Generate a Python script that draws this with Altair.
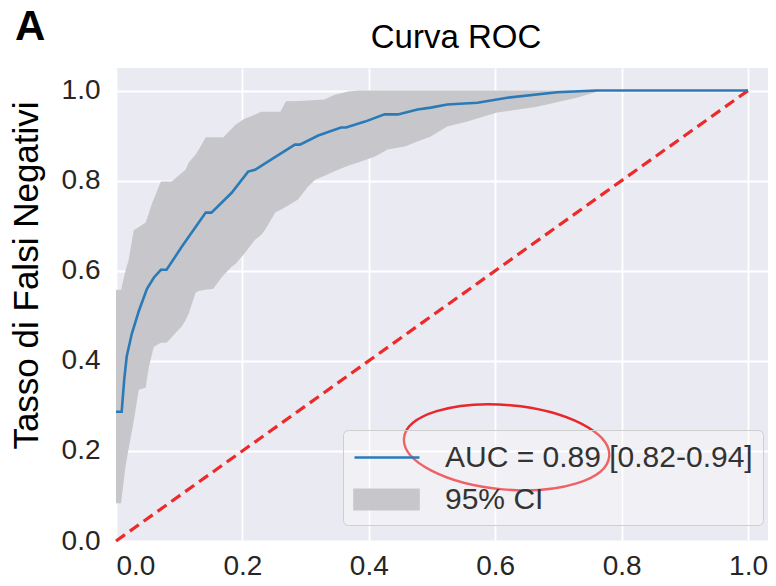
import altair as alt
import pandas as pd

# ROC curve (false positive rate vs rate)
roc_x = [0.0, 0.009, 0.013, 0.017, 0.025, 0.036, 0.049, 0.060, 0.071, 0.080, 0.104, 0.142, 0.151,
         0.183, 0.209, 0.220, 0.246, 0.283, 0.291, 0.320, 0.356, 0.364, 0.394, 0.425, 0.446, 0.477,
         0.498, 0.524, 0.572, 0.619, 0.698, 0.760, 1.0]
roc_y = [0.287, 0.287, 0.358, 0.410, 0.460, 0.510, 0.560, 0.585, 0.602, 0.602, 0.653, 0.729, 0.729,
         0.773, 0.820, 0.824, 0.847, 0.880, 0.880, 0.900, 0.918, 0.918, 0.931, 0.947, 0.947, 0.958,
         0.962, 0.969, 0.973, 0.984, 0.996, 1.0, 1.0]

# 95% confidence band
ci_x = [0.0, 0.008, 0.015, 0.020, 0.028, 0.036, 0.047, 0.052, 0.057, 0.060, 0.071, 0.080, 0.088,
        0.094, 0.104, 0.110, 0.115, 0.126, 0.131, 0.142, 0.154, 0.167, 0.170, 0.183, 0.189, 0.202,
        0.220, 0.230, 0.236, 0.252, 0.260, 0.269, 0.288, 0.304, 0.315, 0.330, 0.345, 0.367, 0.383,
        0.409, 0.430, 0.457, 0.477, 0.498, 0.524, 0.556, 0.603, 0.666, 0.729, 0.768, 1.0]
ci_lower = [0.084, 0.084, 0.165, 0.205, 0.265, 0.336, 0.340, 0.387, 0.415, 0.431, 0.440, 0.440, 0.452,
            0.462, 0.476, 0.490, 0.505, 0.551, 0.555, 0.558, 0.560, 0.585, 0.590, 0.609, 0.615, 0.636,
            0.669, 0.680, 0.691, 0.729, 0.735, 0.742, 0.758, 0.787, 0.802, 0.811, 0.820, 0.833, 0.840,
            0.853, 0.869, 0.876, 0.887, 0.898, 0.920, 0.931, 0.951, 0.964, 0.984, 1.0, 1.0]
ci_upper = [0.558, 0.558, 0.600, 0.624, 0.690, 0.697, 0.707, 0.728, 0.750, 0.760, 0.798, 0.798, 0.798,
            0.805, 0.817, 0.824, 0.840, 0.858, 0.869, 0.896, 0.896, 0.896, 0.896, 0.915, 0.924, 0.936,
            0.947, 0.953, 0.953, 0.953, 0.953, 0.976, 0.977, 0.978, 0.979, 0.980, 0.990, 0.998, 1.0,
            1.0, 1.0, 1.0, 1.0, 1.0, 1.0, 1.0, 1.0, 1.0, 1.0, 1.0, 1.0]

# chance diagonal
diag_x = [0.0, 1.0]
diag_y = [0.0, 1.0]

legend_labels = ["AUC = 0.89 [0.82-0.94]", "95% CI"]
ticks = [0.0, 0.2, 0.4, 0.6, 0.8, 1.0]

# annotation ellipse around the AUC value (data coordinates)
ellipse_x = [0.618]
ellipse_y = [0.208]

title_text = ["Curva ROC"]
panel_text = ["A"]

BLUE = "#2a7ab8"
BAND = "#c7c7cb"
RED = "#ec2a2a"
FONT = "Liberation Sans"

roc_df = pd.DataFrame({"x": roc_x, "y": roc_y})
ci_df = pd.DataFrame({"x": ci_x, "lo": ci_lower, "hi": ci_upper})
diag_df = pd.DataFrame({"x": diag_x, "y": diag_y})
leg_df = pd.DataFrame({"x": [0.5, 0.5], "y": [0.5, 0.5], "serie": legend_labels})
ell_df = pd.DataFrame({"x": ellipse_x, "y": ellipse_y})
panel_df = pd.DataFrame({"label": panel_text})
title_df = pd.DataFrame({"label": title_text})

xscale = alt.Scale(domain=[0, 1.0316], nice=False, zero=False)
yscale = alt.Scale(domain=[0, 1.05], nice=False, zero=False)

xaxis = alt.Axis(values=ticks, format=".1f", title=None, labelPadding=11)
yaxis = alt.Axis(values=ticks, format=".1f", title="Tasso di Falsi Negativi", labelPadding=16,
                 titleX=-79, titleY=207, titleAngle=270, titleBaseline="alphabetic",
                 titleAlign="center", titleFontSize=35, titleFont=FONT,
                 titleFontWeight="normal", titleColor="black")

X = alt.X("x:Q", scale=xscale, axis=xaxis)
Y = alt.Y("y:Q", scale=yscale, axis=yaxis)

band = alt.Chart(ci_df).mark_area(color=BAND, opacity=1).encode(
    x=X, y=alt.Y("lo:Q", scale=yscale, axis=yaxis), y2="hi:Q")

diag = alt.Chart(diag_df).mark_line(color=RED, strokeWidth=3.2, strokeDash=[11, 6]).encode(x=X, y=Y)

roc = alt.Chart(roc_df).mark_line(color=BLUE, strokeWidth=2.6).encode(x=X, y=Y)

line_path = "M -1 0 L 3.06 0"
rect_path = "M -1 -0.6 L 3.0 -0.6 L 3.0 0.6 L -1 0.6 Z"

leg = alt.Legend(title=None, orient="none", legendX=227, legendY=362, padding=10,
                 fillColor="rgba(255,255,255,0.28)", strokeColor="#cfcfcf", cornerRadius=5,
                 labelFont=FONT, labelFontSize=30, labelColor="#333333", labelOffset=57,
                 labelLimit=0, symbolSize=1024, symbolStrokeWidth=2.6, symbolOpacity=1,
                 rowPadding=9)

legend_pts = alt.Chart(leg_df).mark_point(filled=True, opacity=0, size=1024).encode(
    x=X, y=Y,
    fill=alt.Fill("serie:N", scale=alt.Scale(domain=legend_labels, range=[BLUE, BAND]), legend=leg),
    stroke=alt.Stroke("serie:N", scale=alt.Scale(domain=legend_labels, range=[BLUE, BAND]), legend=leg),
    shape=alt.Shape("serie:N", scale=alt.Scale(domain=legend_labels, range=[line_path, rect_path]), legend=leg),
)

ellipse_path = ("M -1 0 C -1 -0.226 -0.552 -0.41 0 -0.41 C 0.552 -0.41 1 -0.226 1 0 "
                "C 1 0.226 0.552 0.41 0 0.41 C -0.552 0.41 -1 0.226 -1 0 Z")
ellipse = alt.Chart(ell_df).mark_point(shape=ellipse_path, size=206 * 206, filled=False,
                                       color="#e8262b", strokeWidth=2.4, opacity=1,
                                       angle=5).encode(x=X, y=Y)

panel = alt.Chart(panel_df).mark_text(font=FONT, fontSize=42, fontWeight="bold", align="left",
                                      baseline="alphabetic", color="black").encode(
    text="label:N", x=alt.value(-101), y=alt.value(-28))

title = alt.Chart(title_df).mark_text(font=FONT, fontSize=33, align="center",
                                      baseline="alphabetic", color="black").encode(
    text="label:N", x=alt.value(340), y=alt.value(-20))

chart = alt.layer(band, diag, roc, legend_pts, ellipse, panel, title).properties(
    width=652, height=473,
    background="white",
    autosize=alt.AutoSizeParams(type="none"),
    padding={"left": 108, "top": 60, "right": 0, "bottom": 45},
).configure_view(fill="#eaeaf2", stroke=None).configure_axis(
    labelFont=FONT, labelFontSize=28, labelColor="#262626", domain=False, ticks=False,
    grid=True, gridColor="white", gridWidth=1.8, gridOpacity=1
)

chart.save("out.html", embed_options={"renderer": "svg", "actions": False})
